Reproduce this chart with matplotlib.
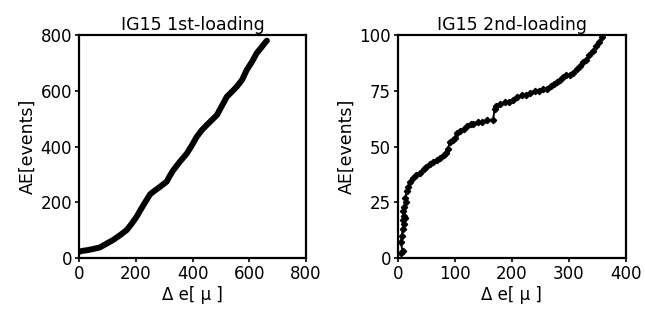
import matplotlib
matplotlib.use("Agg")
import matplotlib.pyplot as plt

plt.rcParams['font.family'] = ['DejaVu Sans']

# Left panel: IG15 1st-loading
x1 = [0, 10, 30, 50, 74, 95, 121, 145, 168, 185, 203, 220, 238, 250, 262, 285, 309, 320,
      333, 355, 380, 398, 415, 432, 450, 468, 486, 503, 521, 540, 556, 575, 591, 610, 626, 642, 656, 662]
y1 = [22, 25, 28, 32, 38, 50, 65, 82, 100, 122, 148, 178, 208, 228, 238, 255, 274, 295,
      316, 345, 375, 405, 435, 458, 477, 495, 513, 545, 579, 598, 615, 640, 675, 705, 735, 755, 773, 780]

# Right panel: IG15 2nd-loading
x2 = [6, 8, 5, 7, 8, 10, 9, 12, 11, 9, 10, 14, 13, 15, 18, 22, 27, 32, 38, 45, 50, 56,
      62, 68, 74, 80, 85, 88, 91, 96, 100, 104, 109, 116, 122, 128, 132, 140, 148, 156, 167,
      170, 173, 180, 188, 195, 202, 210, 218, 225, 232, 240, 248, 255, 261, 268, 275, 280,
      284, 290, 296, 302, 308, 314, 320, 325, 330, 336, 343, 348, 354, 358]
y2 = [2, 3, 7, 10, 13, 15, 17, 18, 19, 21, 23, 25, 27, 30, 32, 34, 36, 37, 38, 40, 41, 42,
      43, 44, 45, 46, 47, 49, 52, 53, 54, 56, 57, 58, 59, 60, 60, 61, 61, 62, 62,
      67, 68, 69, 70, 70, 71, 72, 73, 73, 74, 75, 75, 76, 76, 77, 78, 79,
      80, 81, 82, 82, 83, 85, 86, 88, 89, 91, 93, 95, 97, 99]

fig = plt.figure(figsize=(6.45, 3.22), dpi=100)
ax1 = fig.add_axes([0.1225, 0.199, 0.352, 0.692])
ax2 = fig.add_axes([0.617, 0.199, 0.353, 0.692])

ax1.plot(x1, y1, color='black', lw=4.3, solid_capstyle='round', solid_joinstyle='round')
ax1.set_xlim(0, 800)
ax1.set_ylim(0, 800)
ax1.set_xticks([0, 200, 400, 600, 800])
ax1.set_yticks([0, 200, 400, 600, 800])
ax1.set_title('IG15 1st-loading', fontsize=12.5, pad=4)

ax2.plot(x2, y2, color='black', lw=1.4)
ax2.plot(x2, y2, 'D', color='black', ms=3.2)
ax2.set_xlim(0, 400)
ax2.set_ylim(0, 100)
ax2.set_xticks([0, 100, 200, 300, 400])
ax2.set_yticks([0, 25, 50, 75, 100])
ax2.set_title('IG15 2nd-loading', fontsize=12.5, pad=4)

for ax in (ax1, ax2):
    ax.set_xlabel('Δ e[ μ ]', fontsize=12, labelpad=2)
    ax.set_ylabel('AE[events]', fontsize=12.5, labelpad=3)
    ax.tick_params(direction='out', length=3, width=1.2, labelsize=12, pad=2)
    for s in ax.spines.values():
        s.set_linewidth(1.6)

fig.savefig('out.png', dpi=100)
